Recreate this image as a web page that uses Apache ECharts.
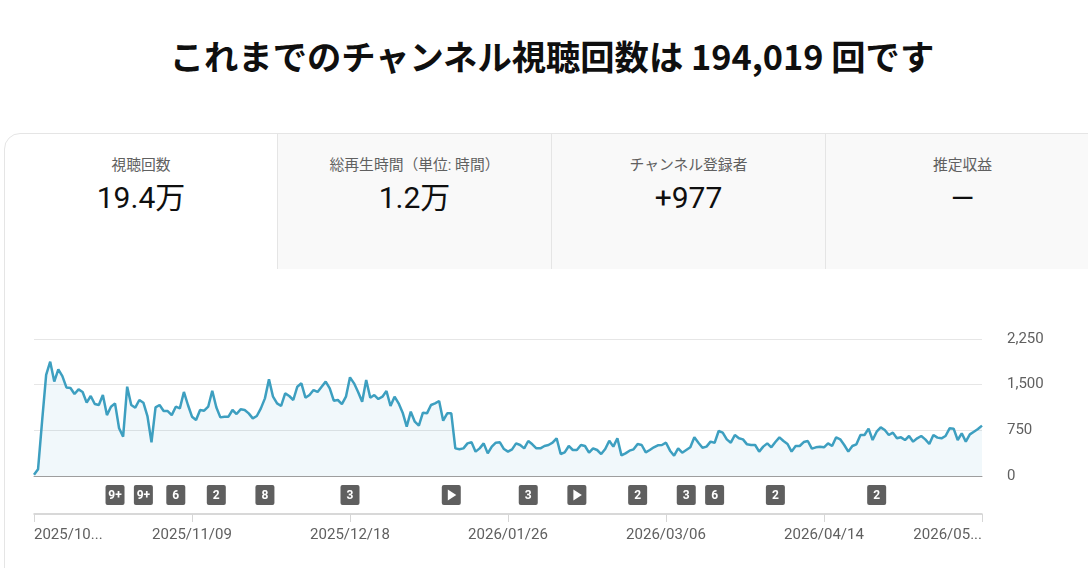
<!DOCTYPE html>
<html>
<head>
<meta charset="utf-8">
<script src="https://cdn.jsdelivr.net/npm/echarts@6/dist/echarts.min.js"></script>
<style>
  html, body { margin:0; padding:0; width:1088px; height:568px; overflow:hidden; background:#fff; }
  body { position:relative; font-family: Roboto, "Noto Sans CJK JP", sans-serif; }
  #title { position:absolute; left:0; top:30px; width:1104px; text-align:center; line-height:50px;
           font-family:"Noto Sans CJK JP", sans-serif; font-weight:700; font-size:34.3px; color:#0f0f0f; }
  #card { position:absolute; left:4px; top:133px; width:1200px; height:500px; box-sizing:border-box;
          border:1px solid #e5e5e5; border-top-left-radius:16px; background:#fff; }
  .tab { position:absolute; top:134px; height:135px; box-sizing:border-box; }
  .tab.gray { background:#f9f9f9; border-left:1px solid #e5e5e5; }
  .tab .lbl { position:absolute; left:0; right:0; top:22px; text-align:center; font-size:14.8px; line-height:18px;
              color:#606060; font-family: Roboto, "Noto Sans CJK JP", sans-serif; }
  .tab .val { position:absolute; left:0; right:0; top:45px; text-align:center; font-size:30px; line-height:38px;
              color:#0f0f0f; font-family: Roboto, "Noto Sans CJK JP", sans-serif; }
  #chart { position:absolute; left:0; top:0; width:1088px; height:568px; }
</style>
</head>
<body>
<div id="title">これまでのチャンネル視聴回数は 194,019 回です</div>
<div id="card"></div>
<div class="tab" style="left:5px;width:272px;"><div class="lbl">視聴回数</div><div class="val">19.4万</div></div>
<div class="tab gray" style="left:277px;width:274px;"><div class="lbl">総再生時間（単位: 時間）</div><div class="val">1.2万</div></div>
<div class="tab gray" style="left:551px;width:274px;"><div class="lbl">チャンネル登録者</div><div class="val">+977</div></div>
<div class="tab gray" style="left:825px;width:274px;"><div class="lbl">推定収益</div><div class="val">—</div></div>
<div id="chart"></div>
<script>
// Daily views, 2025/10/01 .. 2026/05/23 (235 days)
const views = [
  20,110,900,1660,1878,1550,1750,1640,1455,1445,
  1346,1423,1380,1205,1314,1182,1166,1330,1000,1138,
  1193,783,646,1467,1166,1122,1248,1204,985,553,
  1128,1166,1067,1067,1000,1138,1111,1380,1166,974,
  920,1084,1073,1138,1401,1128,963,974,974,1084,
  1018,1095,1084,1029,947,985,1111,1275,1587,1303,
  1193,1150,1357,1314,1248,1467,1522,1286,1330,1412,
  1380,1467,1550,1440,1237,1248,1182,1303,1620,1522,
  1380,
  1221,1577,1286,1330,1264,1303,1396,1150,1303,1193,
  1040,810,1056,892,827,1040,1029,1166,1193,1232,
  909,1029,1029,454,438,454,536,553,400,454,
  536,372,482,547,553,443,400,438,536,509,
  454,575,520,454,454,493,509,547,619,361,
  389,493,427,427,509,493,383,454,427,361,
  443,580,482,619,339,372,416,438,525,509,
  389,427,471,504,509,547,416,334,454,383,
  427,471,635,547,
  465,482,564,545,739,712,602,547,673,619,
  602,520,509,509,400,482,536,471,558,635,
  575,525,400,493,493,558,575,449,471,482,
  471,536,493,635,602,509,400,493,520,673,
  673,777,591,728,799,755,673,712,619,635,
  591,657,564,619,657,602,525,673,630,619,
  657,783,777,591,701,564,684,728,772,827
];
const startYear = 2025, startMonth = 10, startDay = 1;
const tickLabels = ["2025/10...","2025/11/09","2025/12/18","2026/01/26","2026/03/06","2026/04/14","2026/05..."];
const tickStep = 39;
const yTicks = [0, 750, 1500, 2250];
// Annotation markers (day index from start, label)
const markerDays   = [20, 27, 35, 45, 57, 78, 103, 122, 134, 149, 161, 168, 183, 208];
const markerLabels = ["9+","9+","6","2","8","3","▶","3","▶","2","3","6","2","2"];

function pad(n){ return (n < 10 ? "0" : "") + n; }
const dates = views.map((_, i) => {
  const d = new Date(startYear, startMonth - 1, startDay + i);
  return d.getFullYear() + "/" + pad(d.getMonth() + 1) + "/" + pad(d.getDate());
});

const chart = echarts.init(document.getElementById('chart'), null, {renderer:'canvas'});
const option = {
  backgroundColor: 'transparent',
  animation: false,
  grid: [
    {left:34, right:106, top:339, bottom:92},
    {left:34, right:106, top:476, bottom:54}
  ],
  xAxis: [
    {type:'category', gridIndex:0, data:dates, boundaryGap:false,
     axisLine:{lineStyle:{color:'#9e9e9e', width:1}}, axisTick:{show:false},
     axisLabel:{show:false}, splitLine:{show:false}},
    {type:'category', gridIndex:1, data:dates, boundaryGap:false, position:'bottom',
     axisLine:{lineStyle:{color:'#cccccc', width:1.5}},
     axisTick:{show:true, interval:(i) => i % tickStep === 0, length:8, lineStyle:{color:'#d6d6d6'}},
     axisLabel:{interval:(i) => i % tickStep === 0, formatter:(v, i) => tickLabels[Math.round(i / tickStep)],
                color:'#606060', fontSize:15, fontFamily:'Roboto', margin:14,
                alignMinLabel:'left', alignMaxLabel:'right'},
     splitLine:{show:false}}
  ],
  yAxis: [
    {type:'value', gridIndex:0, position:'right', min:yTicks[0], max:yTicks[yTicks.length-1], interval:yTicks[1]-yTicks[0],
     axisLine:{show:false}, axisTick:{show:false},
     axisLabel:{color:'#606060', fontSize:15, fontFamily:'Roboto', margin:25, formatter:(v) => v.toLocaleString('en-US')},
     splitLine:{lineStyle:{color:'#e6e6e6', width:1}}},
    {type:'value', gridIndex:1, min:0, max:1, show:false}
  ],
  series: [
    {type:'line', xAxisIndex:0, yAxisIndex:0, data:views, showSymbol:false, symbol:'none',
     lineStyle:{color:'#3d9fc0', width:2.5}, itemStyle:{color:'#3d9fc0'},
     areaStyle:{color:'rgba(61,159,192,0.10)'}, z:3},
    {type:'custom', xAxisIndex:1, yAxisIndex:1,
     data: markerDays.map((d, i) => [d, 0.5, i]),
     renderItem: function(params, api){
       const p = api.coord([api.value(0), api.value(1)]);
       const label = markerLabels[params.dataIndex];
       const children = [{type:'rect', shape:{x:p[0]-9.5, y:p[1]-10, width:19, height:20, r:2}, style:{fill:'#5f5f5f'}}];
       if (label === '▶') {
         children.push({type:'polygon', shape:{points:[[p[0]-3.5,p[1]-5.5],[p[0]-3.5,p[1]+5.5],[p[0]+5,p[1]]]}, style:{fill:'#ffffff'}});
       } else {
         children.push({type:'text', x:p[0], y:p[1]+0.5, style:{text:label, fill:'#ffffff', fontSize:12, fontWeight:'bold', fontFamily:'Roboto', align:'center', verticalAlign:'middle'}});
       }
       return {type:'group', children};
     }, z:4}
  ]
};
chart.setOption(option);
</script>
</body>
</html>
